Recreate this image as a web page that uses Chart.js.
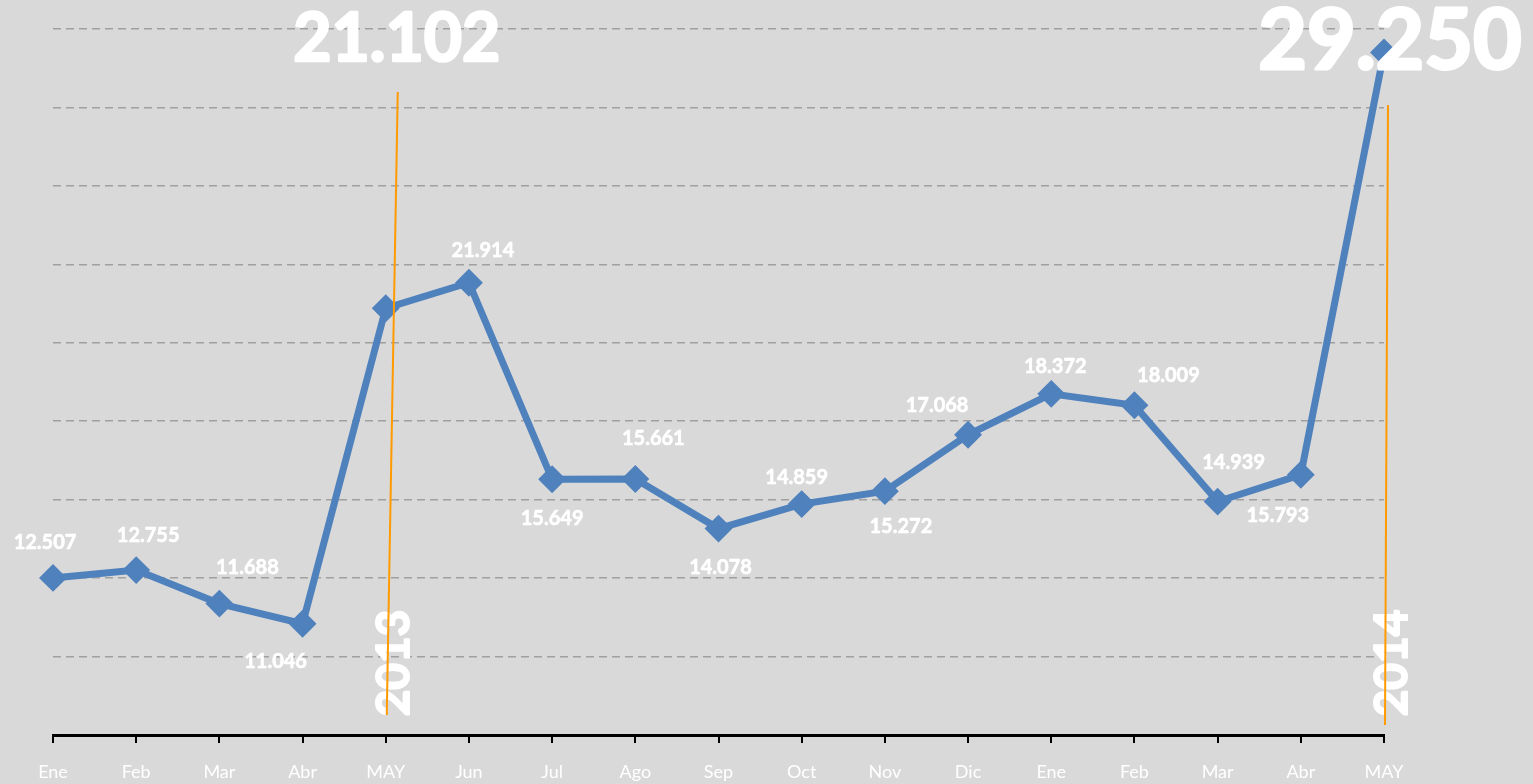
<!DOCTYPE html>
<html>
<head>
<meta charset="utf-8">
<script src="https://cdn.jsdelivr.net/npm/chart.js@4"></script>
<style>
  html, body { margin: 0; padding: 0; background: #d9d9d9; }
  #wrap { width: 1533px; height: 784px; }
</style>
</head>
<body>
<div id="wrap"><canvas id="ventas"></canvas></div>
<script>
// months, two years of data
const months = ["Ene", "Feb", "Mar", "Abr", "MAY", "Jun", "Jul", "Ago", "Sep", "Oct", "Nov", "Dic",
                "Ene", "Feb", "Mar", "Abr", "MAY"];
const values = [12507, 12755, 11688, 11046, 21102, 21914, 15649, 15661, 14078, 14859, 15272, 17068,
                18372, 18009, 14939, 15793, 29250];
const yearMarks = [{ idx: 4, year: "2013" }, { idx: 16, year: "2014" }];

// label offsets from each point (px), null = big label instead
const labelOffsets = [[-8, -35], [12, -35], [28, -36], [-27, 38], null, [14, -32], [0, 39], [18, -40],
                      [2, 39], [-5, -27], [16, 35], [-31, -29], [4, -27], [34, -30], [16, -39], [-23, 41], null];

const fmt = v => (v / 1000).toFixed(3);
const FONT = "Lato, 'Open Sans', sans-serif";

// filled text with a thin outline so it looks heavier
function heavyText(ctx, txt, x, y, w) {
    ctx.lineWidth = w;
    ctx.lineJoin = "round";
    ctx.strokeStyle = "#ffffff";
    ctx.strokeText(txt, x, y);
    ctx.fillText(txt, x, y);
}

const annotate = {
    id: "annotate",
    afterDatasetsDraw(chart) {
        const ctx = chart.ctx;
        const pts = chart.getDatasetMeta(0).data;
        ctx.save();
        ctx.fillStyle = "#ffffff";
        ctx.textAlign = "center";
        ctx.textBaseline = "middle";
        ctx.font = "bold 20px " + FONT;
        labelOffsets.forEach((o, i) => {
            if (!o) return;
            heavyText(ctx, fmt(values[i]), pts[i].x + o[0], pts[i].y + o[1], 0.6);
        });

        // orange year lines + rotated year text
        const lineDefs = [{ top: 92, dxTop: 12, bottom: 715 }, { top: 105, dxTop: 4, bottom: 725 }];
        yearMarks.forEach((m, k) => {
            const x = pts[m.idx].x;
            const d = lineDefs[k];
            ctx.save();
            ctx.font = "bold 46px " + FONT;
            ctx.translate(x + 8, 663);
            ctx.rotate(-Math.PI / 2);
            heavyText(ctx, m.year, 0, 0, 2);
            ctx.restore();
            ctx.strokeStyle = "#ff9a00";
            ctx.lineWidth = 2;
            ctx.beginPath();
            ctx.moveTo(x + d.dxTop, d.top);
            ctx.lineTo(x + 1, d.bottom);
            ctx.stroke();
        });

        // big value labels
        ctx.font = "bold 66px " + FONT;
        heavyText(ctx, fmt(values[4]), pts[4].x + 11, 40, 2.5);
        ctx.font = "bold 84px " + FONT;
        heavyText(ctx, fmt(values[16]), pts[16].x + 6, 42, 3);
        ctx.restore();
    }
};

new Chart(document.getElementById("ventas"), {
    type: "line",
    data: {
        labels: months,
        datasets: [{
            data: values,
            borderColor: "#4f81bd",
            backgroundColor: "#4f81bd",
            borderWidth: 7,
            pointStyle: "rectRot",
            pointRadius: 9,
            pointHoverRadius: 9,
            tension: 0
        }]
    },
    options: {
        responsive: true,
        maintainAspectRatio: false,
        animation: false,
        layout: { padding: { left: 53, right: 149, top: 29, bottom: 0 } },
        plugins: { legend: { display: false }, tooltip: { enabled: false } },
        scales: {
            x: {
                offset: false,
                grid: { drawOnChartArea: false, color: "#000000", lineWidth: 2, tickLength: 8 },
                border: { color: "#000000", width: 3 },
                ticks: { color: "#ffffff", font: { family: FONT, size: 18 }, padding: 18, maxRotation: 0, autoSkip: false },
                afterFit: s => { s.height = 49; }
            },
            y: {
                min: 7500,
                max: 30000,
                ticks: { display: false, stepSize: 2500 },
                border: { display: false, dash: [8, 5] },
                grid: {
                    drawTicks: false,
                    color: ctx => ctx.tick && ctx.tick.value === 7500 ? "rgba(0,0,0,0)" : "#a0a0a0",
                    lineWidth: 1.5
                },
                afterFit: s => { s.width = 0; }
            }
        }
    },
    plugins: [annotate]
});
</script>
</body>
</html>
